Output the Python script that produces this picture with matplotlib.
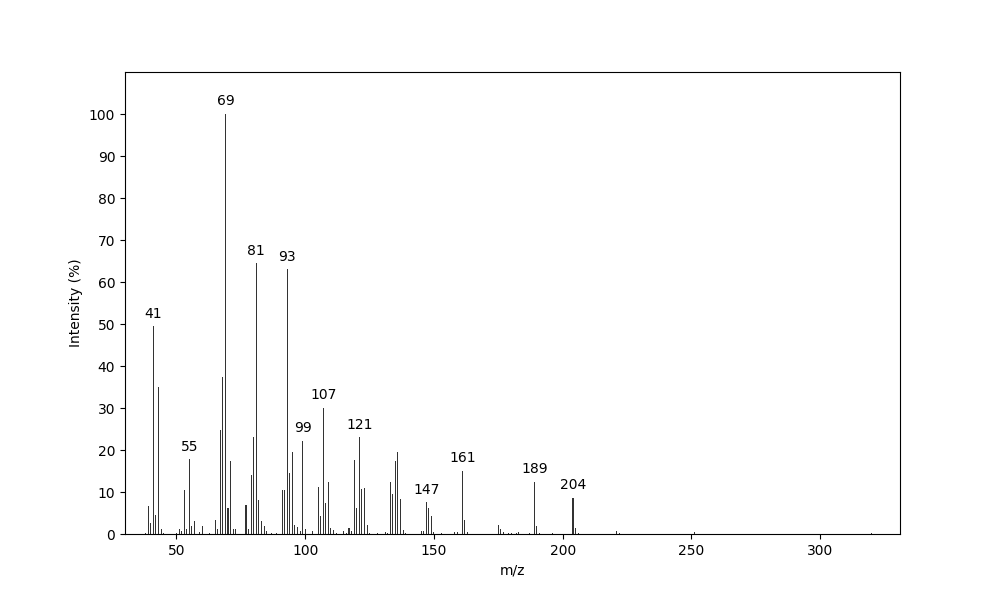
import matplotlib

matplotlib.use("Agg")
import matplotlib.pyplot as plt

mz = [38, 39, 40, 41, 42, 43, 44, 45, 50, 51, 52, 53, 54, 55, 56, 57, 59, 60, 63,
      65, 66, 67, 68, 69, 70, 71, 72, 73, 77, 78, 79, 80, 81, 82, 83, 84, 85, 87, 89,
      91, 92, 93, 94, 95, 96, 97, 98, 99, 100, 103, 105, 106, 107, 108, 109, 110, 111,
      112, 115, 116, 117, 118, 119, 120, 121, 122, 123, 124, 125, 128, 131, 132, 133,
      134, 135, 136, 137, 138, 139, 145, 146, 147, 148, 149, 150, 153, 158, 159, 161,
      162, 163, 175, 176, 177, 179, 180, 182, 183, 187, 189, 190, 191, 196, 204, 205,
      206, 221, 222, 251, 320]
intensity = [0.3, 6.7, 2.7, 49.5, 4.6, 35.0, 1.2, 0.3, 0.3, 1.2, 0.7, 10.5, 1.3, 17.8,
             1.9, 3.0, 0.5, 1.8, 0.3, 3.3, 1.2, 24.8, 37.5, 100.0, 6.2, 17.3, 1.1, 1.2,
             7.0, 1.2, 14.0, 23.2, 64.5, 8.0, 3.0, 2.0, 0.7, 0.3, 0.3, 10.5, 10.5, 63.0,
             14.5, 19.6, 2.2, 1.6, 0.8, 22.2, 1.1, 0.7, 11.3, 4.3, 30.0, 7.3, 12.3, 1.5,
             1.0, 0.3, 0.7, 0.3, 1.5, 0.6, 17.7, 6.2, 23.0, 10.8, 11.0, 2.2, 0.2, 0.2,
             0.5, 0.3, 12.5, 9.5, 17.5, 19.6, 8.3, 1.0, 0.3, 0.6, 0.6, 7.6, 6.2, 4.3,
             0.5, 0.2, 0.5, 0.5, 15.0, 3.3, 0.4, 2.1, 1.2, 0.4, 0.2, 0.2, 0.3, 0.5, 0.2,
             12.4, 1.9, 0.3, 0.2, 8.6, 1.5, 0.2, 0.7, 0.3, 0.5, 0.3]
labeled = [41, 55, 69, 81, 93, 99, 107, 121, 147, 161, 189, 204]

fig, ax = plt.subplots(figsize=(10, 6), dpi=100)
ax.bar(mz, intensity, width=0.4, color="#333333")
for m in labeled:
    y = intensity[mz.index(m)]
    ax.annotate(str(m), (m, y), textcoords="offset points", xytext=(0, 4),
                ha="center", va="bottom", fontsize=10)

ax.set_xlim(30, 331)
ax.set_ylim(0, 110)
ax.set_yticks(range(0, 101, 10))
ax.set_xlabel("m/z")
ax.set_ylabel("Intensity (%)")

fig.savefig("out.png", dpi=100)
